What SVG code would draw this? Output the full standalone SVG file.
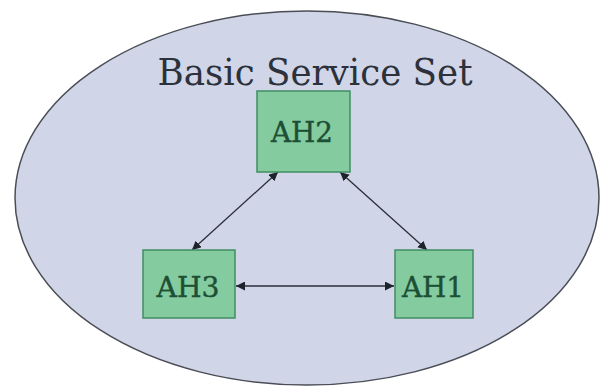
<svg xmlns="http://www.w3.org/2000/svg" width="602" height="389" viewBox="0 0 602 389">
<defs>
<style>
.node rect{fill:#84cba0;stroke:#3f8f62;stroke-width:1.5}
.node text{font-family:"DejaVu Serif","Liberation Serif",serif;font-size:28px;fill:#1d4f34;text-anchor:middle;stroke:#1d4f34;stroke-width:0.4}
.title{font-family:"DejaVu Serif","Liberation Serif",serif;font-size:38px;fill:#2c313b;text-anchor:middle}
.edge{stroke:#2a2e38;stroke-width:1.3;fill:none;marker-start:url(#ah);marker-end:url(#ah)}
</style>
<marker id="ah" viewBox="0 0 10 10" refX="10" refY="5" markerWidth="9" markerHeight="9" markerUnits="userSpaceOnUse" orient="auto-start-reverse">
<path d="M0,0 L10,5 L0,10 z" fill="#1e222b"/>
</marker>
</defs>
<rect width="602" height="389" fill="#ffffff"/>
<g id="bss">
<ellipse cx="307" cy="198" rx="292" ry="187" fill="#d0d6e8" stroke="#4a4d55" stroke-width="1.5"/>
<text class="title" x="315" y="85" textLength="315" lengthAdjust="spacingAndGlyphs">Basic Service Set</text>
</g>
<g id="connectors">
<line class="edge" x1="278" y1="172" x2="192" y2="250"/>
<line class="edge" x1="340" y1="172" x2="427" y2="250"/>
<line class="edge" x1="236" y1="286" x2="394" y2="286"/>
</g>
<g id="AH2" class="node">
<rect x="257" y="91" width="93" height="81"/>
<text x="302" y="142" textLength="62" lengthAdjust="spacingAndGlyphs">AH2</text>
</g>
<g id="AH3" class="node">
<rect x="143" y="250" width="92" height="68"/>
<text x="188" y="297" textLength="63" lengthAdjust="spacingAndGlyphs">AH3</text>
</g>
<g id="AH1" class="node">
<rect x="395" y="250" width="78" height="68"/>
<text x="433" y="297" textLength="62" lengthAdjust="spacingAndGlyphs">AH1</text>
</g>
</svg>
